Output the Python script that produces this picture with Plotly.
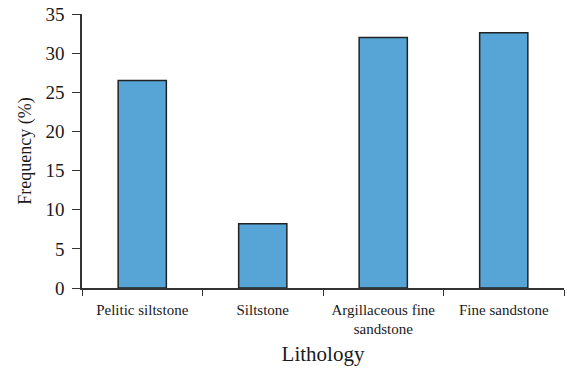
import plotly.graph_objects as go

# Frequency of each lithology type
lithology = ["Pelitic siltstone", "Siltstone", "Argillaceous fine<br>sandstone", "Fine sandstone"]
frequency = [26.5, 8.2, 32.0, 32.6]
y_ticks = [0, 5, 10, 15, 20, 25, 30, 35]

serif = "Liberation Serif, Times New Roman, serif"
axis_color = "#333333"
text_color = "#1a1a1a"

fig = go.Figure(
    go.Bar(
        x=lithology,
        y=frequency,
        width=0.4,
        marker=dict(color="#56a5d6", line=dict(color="#222222", width=1.5)),
    )
)

fig.update_layout(
    width=567,
    height=373,
    margin=dict(l=82, r=3, t=14, b=85),
    plot_bgcolor="white",
    paper_bgcolor="white",
    showlegend=False,
    font=dict(family=serif, color=text_color),
)

fig.update_xaxes(
    range=[-0.5, 3.5],
    showline=True,
    linecolor=axis_color,
    linewidth=1.5,
    ticks="outside",
    tickson="boundaries",
    ticklen=6,
    tickcolor=axis_color,
    tickwidth=1.2,
    ticklabelstandoff=7,
    tickfont=dict(size=15, family=serif, color=text_color),
    title=dict(text="Lithology", font=dict(size=21, family=serif, color=text_color), standoff=10),
    showgrid=False,
    zeroline=False,
)

fig.update_yaxes(
    range=[0, 35],
    tickvals=y_ticks,
    showline=True,
    linecolor=axis_color,
    linewidth=1.5,
    ticks="outside",
    ticklen=8,
    tickcolor=axis_color,
    tickwidth=1.2,
    ticklabelstandoff=4,
    tickfont=dict(size=19, family=serif, color=text_color),
    title=dict(text="Frequency (%)", font=dict(size=18, family=serif, color=text_color), standoff=9),
    showgrid=False,
    zeroline=False,
)

fig.write_html("out.html")
